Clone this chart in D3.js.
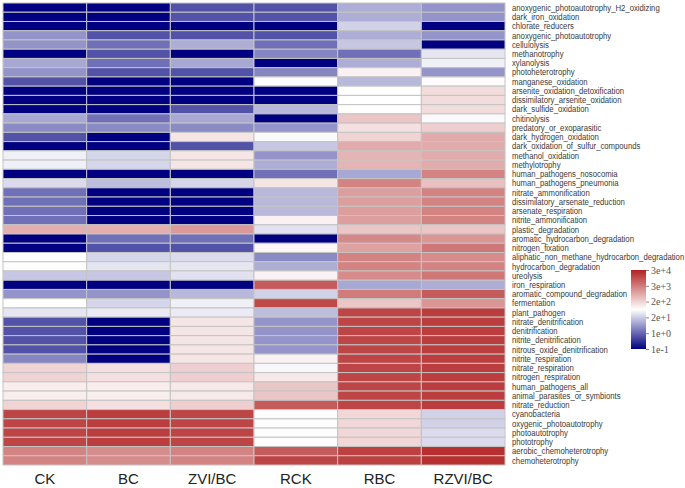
<!DOCTYPE html>
<html><head><meta charset="utf-8">
<script src="https://cdn.jsdelivr.net/npm/d3@7/dist/d3.min.js"></script>
<style>body{margin:0;background:#fff}svg{display:block}</style>
</head><body>
<svg id="chart" width="685" height="488"></svg>
<script>
const samples = ["CK","BC","ZVI/BC","RCK","RBC","RZVI/BC"];
const functions = [
"anoxygenic_photoautotrophy_H2_oxidizing","dark_iron_oxidation","chlorate_reducers","anoxygenic_photoautotrophy","cellulolysis",
"methanotrophy","xylanolysis","photoheterotrophy","manganese_oxidation","arsenite_oxidation_detoxification",
"dissimilatory_arsenite_oxidation","dark_sulfide_oxidation","chitinolysis","predatory_or_exoparasitic","dark_hydrogen_oxidation",
"dark_oxidation_of_sulfur_compounds","methanol_oxidation","methylotrophy","human_pathogens_nosocomia","human_pathogens_pneumonia",
"nitrate_ammonification","dissimilatory_arsenate_reduction","arsenate_respiration","nitrite_ammonification","plastic_degradation",
"aromatic_hydrocarbon_degradation","nitrogen_fixation","aliphatic_non_methane_hydrocarbon_degradation","hydrocarbon_degradation","ureolysis",
"iron_respiration","aromatic_compound_degradation","fermentation","plant_pathogen","nitrate_denitrification",
"denitrification","nitrite_denitrification","nitrous_oxide_denitrification","nitrite_respiration","nitrate_respiration",
"nitrogen_respiration","human_pathogens_all","animal_parasites_or_symbionts","nitrate_reduction","cyanobacteria",
"oxygenic_photoautotrophy","photoautotrophy","phototrophy","aerobic_chemoheterotrophy","chemoheterotrophy"];

const CK = [0.1,0.1,0.1,3.85,3.85,0.1,7,3.85,0.63,0.1,0.1,0.1,7,2.85,0.63,0.1,45,45,0.1,28,1.35,1.35,1.35,1.35,592,0.1,0.1,63,60,17.2,0.1,3.85,63,36,0.63,0.63,0.63,0.63,2.46,200,200,100,100,200,11943,11943,11943,11943,2287,2287];
const BC = [0.1,0.1,0.1,0.63,1.35,0.63,1.35,0.63,0.1,0.1,0.1,0.1,1.35,2.85,0.1,0.1,25,25,0.1,12.8,0.1,0.1,0.1,0.1,592,1.35,0.63,25,36,17.2,0.1,3.85,25,40,0.1,0.1,0.1,0.1,0.1,142,142,100,100,142,15036,15036,15036,15036,1745,1745];
const ZVI_BC = [0.63,0.63,0.1,0.63,8.1,0.1,7,0.63,0.1,0.1,0.1,0.63,7,2.85,126,0.63,126,126,0.1,25,0.1,0.1,0.1,0.1,1162,1.35,0.63,28,36,32,0.1,11,45,40,126,126,126,126,126,229,229,112,112,229,11943,11943,11943,11943,2287,2287];
const RCK = [0.63,0.63,0.1,0.63,1.35,2.46,0.1,2.46,66,0.1,0.1,11,0.1,3.85,56,17.2,3.85,8.1,1.35,126,11,11,11,89,32,0.1,80,2.85,8.1,89,6716,22.4,10640,12.8,3.85,3.85,3.85,3.85,89,53,112,300,300,6716,60,60,60,60,6716,11943];
const RBC = [8.1,8.1,22.4,8.1,17.2,1.35,8.1,89,11,63,63,63,300,142,200,677,516,516,7,2287,1016,1016,1016,1016,300,1996,886,2287,2287,1745,7,3000,300,11943,11943,11943,11943,11943,11943,11943,11943,11943,11943,11943,178,178,178,178,13400,13400];
const RZVI_BC = [3.85,3.85,0.1,3.85,0.1,36,45,3.85,71,159,159,159,56,229,677,677,677,677,2287,344,2287,2287,2287,2287,300,1331,3366,1745,2287,3366,8.1,6716,1331,15036,15036,15036,15036,15036,15036,15036,15036,15036,15036,15036,22.4,22.4,28,28,21240,21240];
const seriesValues = [CK, BC, ZVI_BC, RCK, RBC, RZVI_BC];

const legendTicks = [0.1, 1, 20, 200, 3000, 30000];
const legendTickLabels = ["1e-1","1e+0","2e+1","2e+2","3e+3","3e+4"];

const svg = d3.select("#chart");
const hm = {left:3, top:3, right:505, bottom:465};

const x = d3.scaleBand().domain(samples).range([hm.left, hm.right]).padding(0);
const y = d3.scaleBand().domain(functions).range([hm.top, hm.bottom]).padding(0);

// value -> legend position (0..5), piecewise log between tick values
const levelScale = d3.scaleLog().domain(legendTicks).range(d3.range(legendTicks.length)).clamp(true);
const colorScale = d3.scaleLinear().domain([0, 2.5, 5]).range(["#000080", "#ffffff", "#B22222"]).interpolate(d3.interpolateRgb);
const color = v => colorScale(levelScale(v));

const cells = [];
samples.forEach((s, i) => functions.forEach((f, j) => cells.push({s, f, v: seriesValues[i][j]})));

svg.append("g").selectAll("rect").data(cells).join("rect")
  .attr("x", d => x(d.s)).attr("y", d => y(d.f))
  .attr("width", x.bandwidth()).attr("height", y.bandwidth())
  .attr("fill", d => color(d.v))
  .attr("stroke", "#c4c4c4").attr("stroke-width", 1);

// row labels (horizontally condensed, like the narrow face of the original)
svg.append("g").selectAll("text").data(functions).join("text")
  .attr("transform", d => `translate(512,${y(d) + y.bandwidth()/2}) scale(0.86,1)`)
  .attr("dy", "0.35em")
  .attr("font-family", "'Liberation Sans', Arial, sans-serif")
  .attr("font-size", 9).attr("fill", "#3a3a3a")
  .text(d => d);

// column labels
svg.append("g").selectAll("text").data(samples).join("text")
  .attr("x", d => x(d) + x.bandwidth()/2).attr("y", 484)
  .attr("text-anchor", "middle")
  .attr("font-family", "'Liberation Sans', Arial, sans-serif")
  .attr("font-size", 15).attr("fill", "#222")
  .text(d => d);

// legend
const lg = {x:631, w:15, top:270, bottom:349};
const legendY = d3.scaleLog().domain(legendTicks)
  .range(legendTicks.map((t, i) => lg.bottom - i * (lg.bottom - lg.top) / (legendTicks.length - 1)));
const defs = svg.append("defs");
const grad = defs.append("linearGradient").attr("id", "lgGrad").attr("x1", 0).attr("y1", 1).attr("x2", 0).attr("y2", 0);
d3.range(0, 5.01, 0.25).forEach(p => grad.append("stop").attr("offset", p / 5).attr("stop-color", colorScale(p)));
svg.append("rect").attr("x", lg.x).attr("y", lg.top).attr("width", lg.w).attr("height", lg.bottom - lg.top)
  .attr("fill", "url(#lgGrad)");
const axis = d3.axisRight(legendY).tickValues(legendTicks).tickSize(3)
  .tickFormat((d, i) => legendTickLabels[i]);
const ag = svg.append("g").attr("transform", `translate(${lg.x + lg.w},0)`).call(axis);
ag.select(".domain").remove();
ag.selectAll(".tick line").attr("stroke", "#888");
ag.selectAll(".tick text").attr("font-family", "'Liberation Serif', 'Times New Roman', serif")
  .attr("font-size", 10).attr("fill", "#555").attr("x", 5);
</script>
</body></html>
